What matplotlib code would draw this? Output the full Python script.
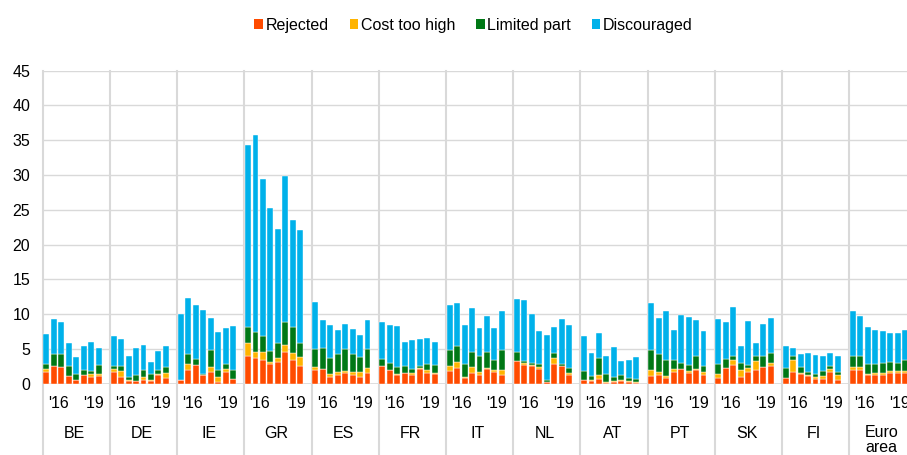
import numpy as np
import matplotlib
matplotlib.use("Agg")
import matplotlib.pyplot as plt
from matplotlib.patches import Patch
import matplotlib.transforms as mtransforms

plt.rcParams['font.family'] = ['Liberation Sans', 'DejaVu Sans']

countries = ["BE", "DE", "IE", "GR", "ES", "FR", "IT", "NL", "AT", "PT", "SK", "FI", "Euro\narea"]
year_labels = ["'16", "'19"]
year_offsets = [2.1, 6.8]  # position inside each group, in bar slots

# one list of 8 survey rounds per country
rejected = [
    [1.73, 2.6, 2.4, 1.15, 0.6, 1.25, 1.0, 1.1],
    [1.73, 1.0, 0.45, 0.4, 0.6, 0.35, 1.2, 0.85],
    [0.5, 1.9, 2.7, 1.2, 1.75, 0.3, 1.75, 0.65],
    [4.05, 3.75, 3.45, 2.8, 3.1, 4.6, 3.45, 2.6],
    [1.9, 2.05, 1.0, 1.3, 1.55, 1.3, 1.0, 1.5],
    [2.6, 1.9, 1.25, 1.5, 1.3, 2.15, 1.6, 1.4],
    [1.85, 2.3, 0.85, 1.6, 1.3, 2.1, 1.65, 1.2],
    [3.25, 2.65, 2.5, 2.1, 0.3, 2.8, 2.55, 1.3],
    [0.5, 0.35, 0.65, 0.15, 0.3, 0.35, 0.3, 0.1],
    [1.1, 1.25, 0.85, 1.65, 2.05, 1.55, 1.9, 1.2],
    [0.85, 2.2, 2.75, 1.0, 1.65, 1.9, 2.45, 2.6],
    [0.75, 1.75, 1.4, 1.1, 0.7, 0.7, 1.75, 0.6],
    [2.0, 1.9, 1.2, 1.2, 1.25, 1.5, 1.55, 1.5],
]
cost_too_high = [
    [0.37, 0, 0, 0, 0, 0, 0.45, 0.35],
    [0.37, 0.8, 0.05, 0, 0.35, 0.25, 0.15, 0.65],
    [0.1, 0.95, 0, 0, 0.7, 0.7, 0.3, 0],
    [1.85, 0.85, 1.05, 0.3, 0.6, 1.0, 1.0, 1.25],
    [0.5, 0, 0.45, 0.4, 0.25, 0.4, 0.75, 0.75],
    [0, 0.1, 0.2, 0.1, 0.2, 0.1, 0.4, 0.2],
    [0.75, 0.85, 0.1, 0.75, 0.4, 0.1, 0.25, 0.7],
    [0, 0.35, 0.25, 0.25, 0, 0.9, 0, 0.25],
    [0.05, 0.15, 0.55, 0.05, 0.05, 0.2, 0.15, 0.1],
    [0.85, 0.4, 0.3, 0.5, 0, 0.25, 0.2, 0.5],
    [0.55, 0, 0.65, 0.95, 0.55, 1.35, 0, 0.4],
    [0.1, 1.7, 0.1, 0.1, 0.3, 0.4, 0.35, 0.65],
    [0.45, 0.45, 0.25, 0.35, 0.35, 0.3, 0.25, 0.3],
]
limited_part = [
    [0.8, 1.6, 1.9, 1.35, 0.8, 0.65, 0.4, 1.3],
    [0.5, 0.7, 0.5, 0.9, 0.95, 0.85, 0.55, 0.85],
    [0, 1.45, 0.9, 0.25, 2.45, 1.0, 0.75, 1.35],
    [2.2, 2.85, 2.4, 1.6, 2.1, 3.2, 3.65, 2.05],
    [2.6, 3.15, 2.3, 2.6, 3.25, 2.5, 2.15, 2.8],
    [0.9, 1.0, 1.0, 1.0, 0.6, 0.35, 0.9, 1.05],
    [2.2, 2.2, 1.95, 2.15, 2.25, 2.3, 1.45, 3.0],
    [1.35, 0.25, 0.25, 0.5, 0.3, 0.7, 0.25, 0.75],
    [1.3, 0.65, 2.5, 1.2, 0.6, 0.75, 0.35, 0.45],
    [2.95, 2.55, 2.25, 1.3, 0.95, 0.95, 1.95, 0.9],
    [1.5, 1.4, 0.65, 1.05, 0.55, 0.8, 1.6, 1.4],
    [1.45, 0.6, 0.95, 0.45, 0.45, 0.75, 0.4, 0.4],
    [1.5, 1.6, 1.35, 1.35, 1.4, 1.3, 1.2, 1.55],
]
discouraged = [
    [4.2, 5.1, 4.55, 3.4, 2.4, 3.5, 4.15, 2.35],
    [4.3, 3.9, 3.0, 3.85, 3.7, 1.65, 2.85, 3.1],
    [9.4, 8.05, 7.75, 9.15, 4.6, 5.5, 5.2, 6.35],
    [26.2, 28.35, 22.6, 20.5, 16.4, 21.1, 15.5, 16.2],
    [6.8, 4.0, 4.75, 3.4, 3.5, 3.7, 3.1, 4.15],
    [5.4, 5.5, 5.8, 3.4, 4.2, 3.85, 3.7, 3.3],
    [6.55, 6.2, 5.5, 6.4, 4.05, 5.2, 4.65, 5.6],
    [7.6, 8.75, 7.0, 4.75, 6.4, 3.8, 6.5, 6.1],
    [4.95, 3.3, 3.55, 2.6, 4.35, 2.0, 2.55, 3.2],
    [6.7, 5.3, 7.1, 4.25, 6.9, 6.8, 5.1, 4.95],
    [6.4, 5.3, 7.0, 2.45, 6.25, 1.8, 4.6, 5.05],
    [3.05, 1.05, 1.85, 2.75, 2.65, 2.2, 1.9, 2.3],
    [6.45, 5.75, 5.4, 4.75, 4.55, 4.15, 4.3, 4.4],
]

series = [
    ("Rejected", rejected, "#FF4B00"),
    ("Cost too high", cost_too_high, "#FFB400"),
    ("Limited part", limited_part, "#007816"),
    ("Discouraged", discouraged, "#00B1EA"),
]

n_groups = len(countries)
n_bars = len(rejected[0])
slots = n_bars + 1  # one empty slot after each group

W, H = 907, 455
fig = plt.figure(figsize=(W / 100, H / 100), dpi=100)
# axes runs a bit past the right edge, like the cropped original
ax = fig.add_axes([42.7 / W, (H - 383.7) / H, 13 * 67.2 / W, 313.0 / H])

x = np.array([g * slots + i + 0.5 for g in range(n_groups) for i in range(n_bars)])
bottom = np.zeros(len(x))
for name, vals, col in series:
    v = np.array(vals).ravel()
    ax.bar(x, v, width=0.8, bottom=bottom, color=col, edgecolor="white",
           linewidth=0.3, zorder=3)
    bottom += v

ax.set_xlim(0, n_groups * slots)
ax.set_ylim(0, 45)
ax.set_yticks(np.arange(0, 46, 5))
ax.set_xticks([])
ax.tick_params(axis="y", length=0, pad=9, labelsize=11.5)
ax.grid(axis="y", color="#d9d9d9", linewidth=1.0, zorder=0)
for s in ax.spines.values():
    s.set_visible(False)
ax.axhline(0, color="#d9d9d9", linewidth=1.2, zorder=2)

# group separators, running down through the label area
trans = mtransforms.blended_transform_factory(ax.transData, ax.transAxes)
y_bottom = -(H - 383.7) / 313.0 - 0.05
for g in range(n_groups + 1):
    ax.plot([g * slots, g * slots], [1, y_bottom], color="#d9d9d9",
            linewidth=1.5, transform=trans, clip_on=False, zorder=1)

y_year = -(403 - 383.7) / 313.0
y_ctry = -(433 - 383.7) / 313.0
for g, c in enumerate(countries):
    for lab, off in zip(year_labels, year_offsets):
        ax.text(g * slots + off, y_year, lab, transform=trans, ha="center",
                va="center", fontsize=11.5)
    if "\n" in c:
        ax.text(g * slots + n_bars / 2 + 0.3, y_ctry + 0.027, c, transform=trans,
                ha="center", va="top", fontsize=11.5, linespacing=1.0)
    else:
        ax.text(g * slots + n_bars / 2 + 0.3, y_ctry, c, transform=trans,
                ha="center", va="center", fontsize=11.5)

handles = [Patch(facecolor=col, label=name) for name, _, col in series]
fig.legend(handles=handles, loc="center", bbox_to_anchor=(0.522, 0.945), ncol=4,
           frameon=False, fontsize=11.5, handlelength=0.55, handleheight=0.55,
           handletextpad=0.15, columnspacing=1.3)

fig.savefig("out.png", dpi=100)
